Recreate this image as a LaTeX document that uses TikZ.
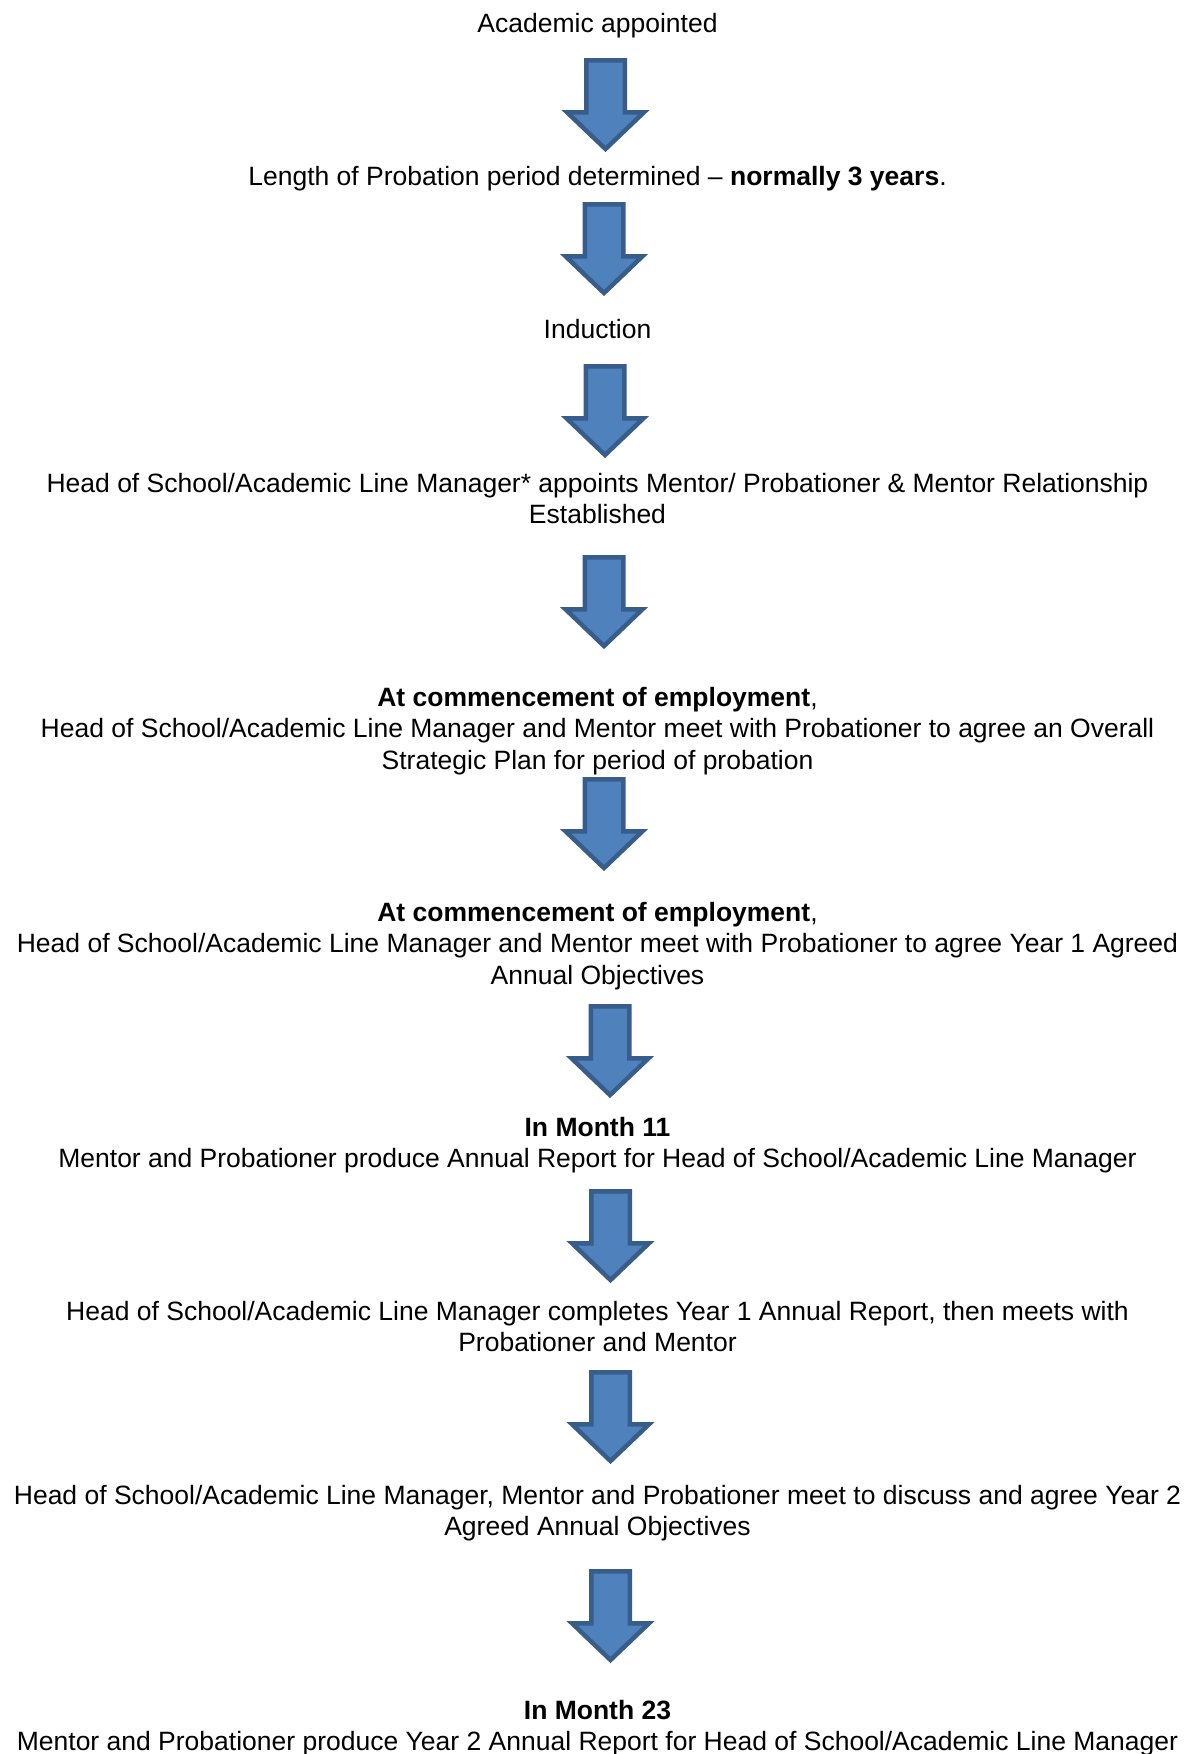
\documentclass[tikz,border=0pt]{standalone}
\usepackage{fontspec}
\setmainfont{Liberation Sans}
\definecolor{arrowfill}{HTML}{4F81BD}
\definecolor{arrowline}{HTML}{385D8A}
\begin{document}
\begin{tikzpicture}[x=1pt,y=-1pt,
  txt/.style={anchor=base,inner sep=0pt,align=center,font=\fontsize{26.5}{31.3}\selectfont},
  blockarrowstyle/.style={fill=arrowfill,draw=arrowline,line width=4.5pt,line join=miter},
  downarrow/.pic={\draw[blockarrowstyle] (-19.25,2.25) -- (19.25,2.25) -- (19.25,54.25) -- (38.5,54.25) -- (0,91) -- (-38.5,54.25) -- (-19.25,54.25) -- cycle;}]
\useasboundingbox[fill=white] (0,0) rectangle (1195,1754);
% anchor=base is the baseline of the last line of each text
\node[txt] (t1) at (597.5,32) {Academic appointed};
\node[txt] (t2) at (597.5,185.5) {Length of Probation period determined -- \textbf{normally 3 years}.};
\node[txt] (t3) at (597.5,338.5) {Induction};
\node[txt] (t4) at (597.5,523.8) {Head of School/Academic Line Manager* appoints Mentor/ Probationer \& Mentor Relationship\\Established};
\node[txt] (t5) at (597.5,769.1) {\textbf{At commencement of employment},\\Head of School/Academic Line Manager and Mentor meet with Probationer to agree an Overall\\Strategic Plan for period of probation};
\node[txt] (t6) at (597.5,984.1) {\textbf{At commencement of employment},\\Head of School/Academic Line Manager and Mentor meet with Probationer to agree Year 1 Agreed\\Annual Objectives};
\node[txt] (t7) at (597.5,1167.8) {\textbf{In Month 11}\\Mentor and Probationer produce Annual Report for Head of School/Academic Line Manager};
\node[txt] (t8) at (597.5,1351.8) {Head of School/Academic Line Manager completes Year 1 Annual Report, then meets with\\Probationer and Mentor};
\node[txt] (t9) at (597.5,1535.8) {Head of School/Academic Line Manager, Mentor and Probationer meet to discuss and agree Year 2\\Agreed Annual Objectives};
\node[txt] (t10) at (597.5,1750.8) {\textbf{In Month 23}\\Mentor and Probationer produce Year 2 Annual Report for Head of School/Academic Line Manager};
\pic (a1) at (605.5,58) {downarrow};
\pic (a2) at (604,202) {downarrow};
\pic (a3) at (605,364) {downarrow};
\pic (a4) at (604,555) {downarrow};
\pic (a5) at (604,777) {downarrow};
\pic (a6) at (610,1004) {downarrow};
\pic (a7) at (610.5,1189) {downarrow};
\pic (a8) at (610.5,1370) {downarrow};
\pic (a9) at (610.5,1569) {downarrow};
\end{tikzpicture}
\end{document}
